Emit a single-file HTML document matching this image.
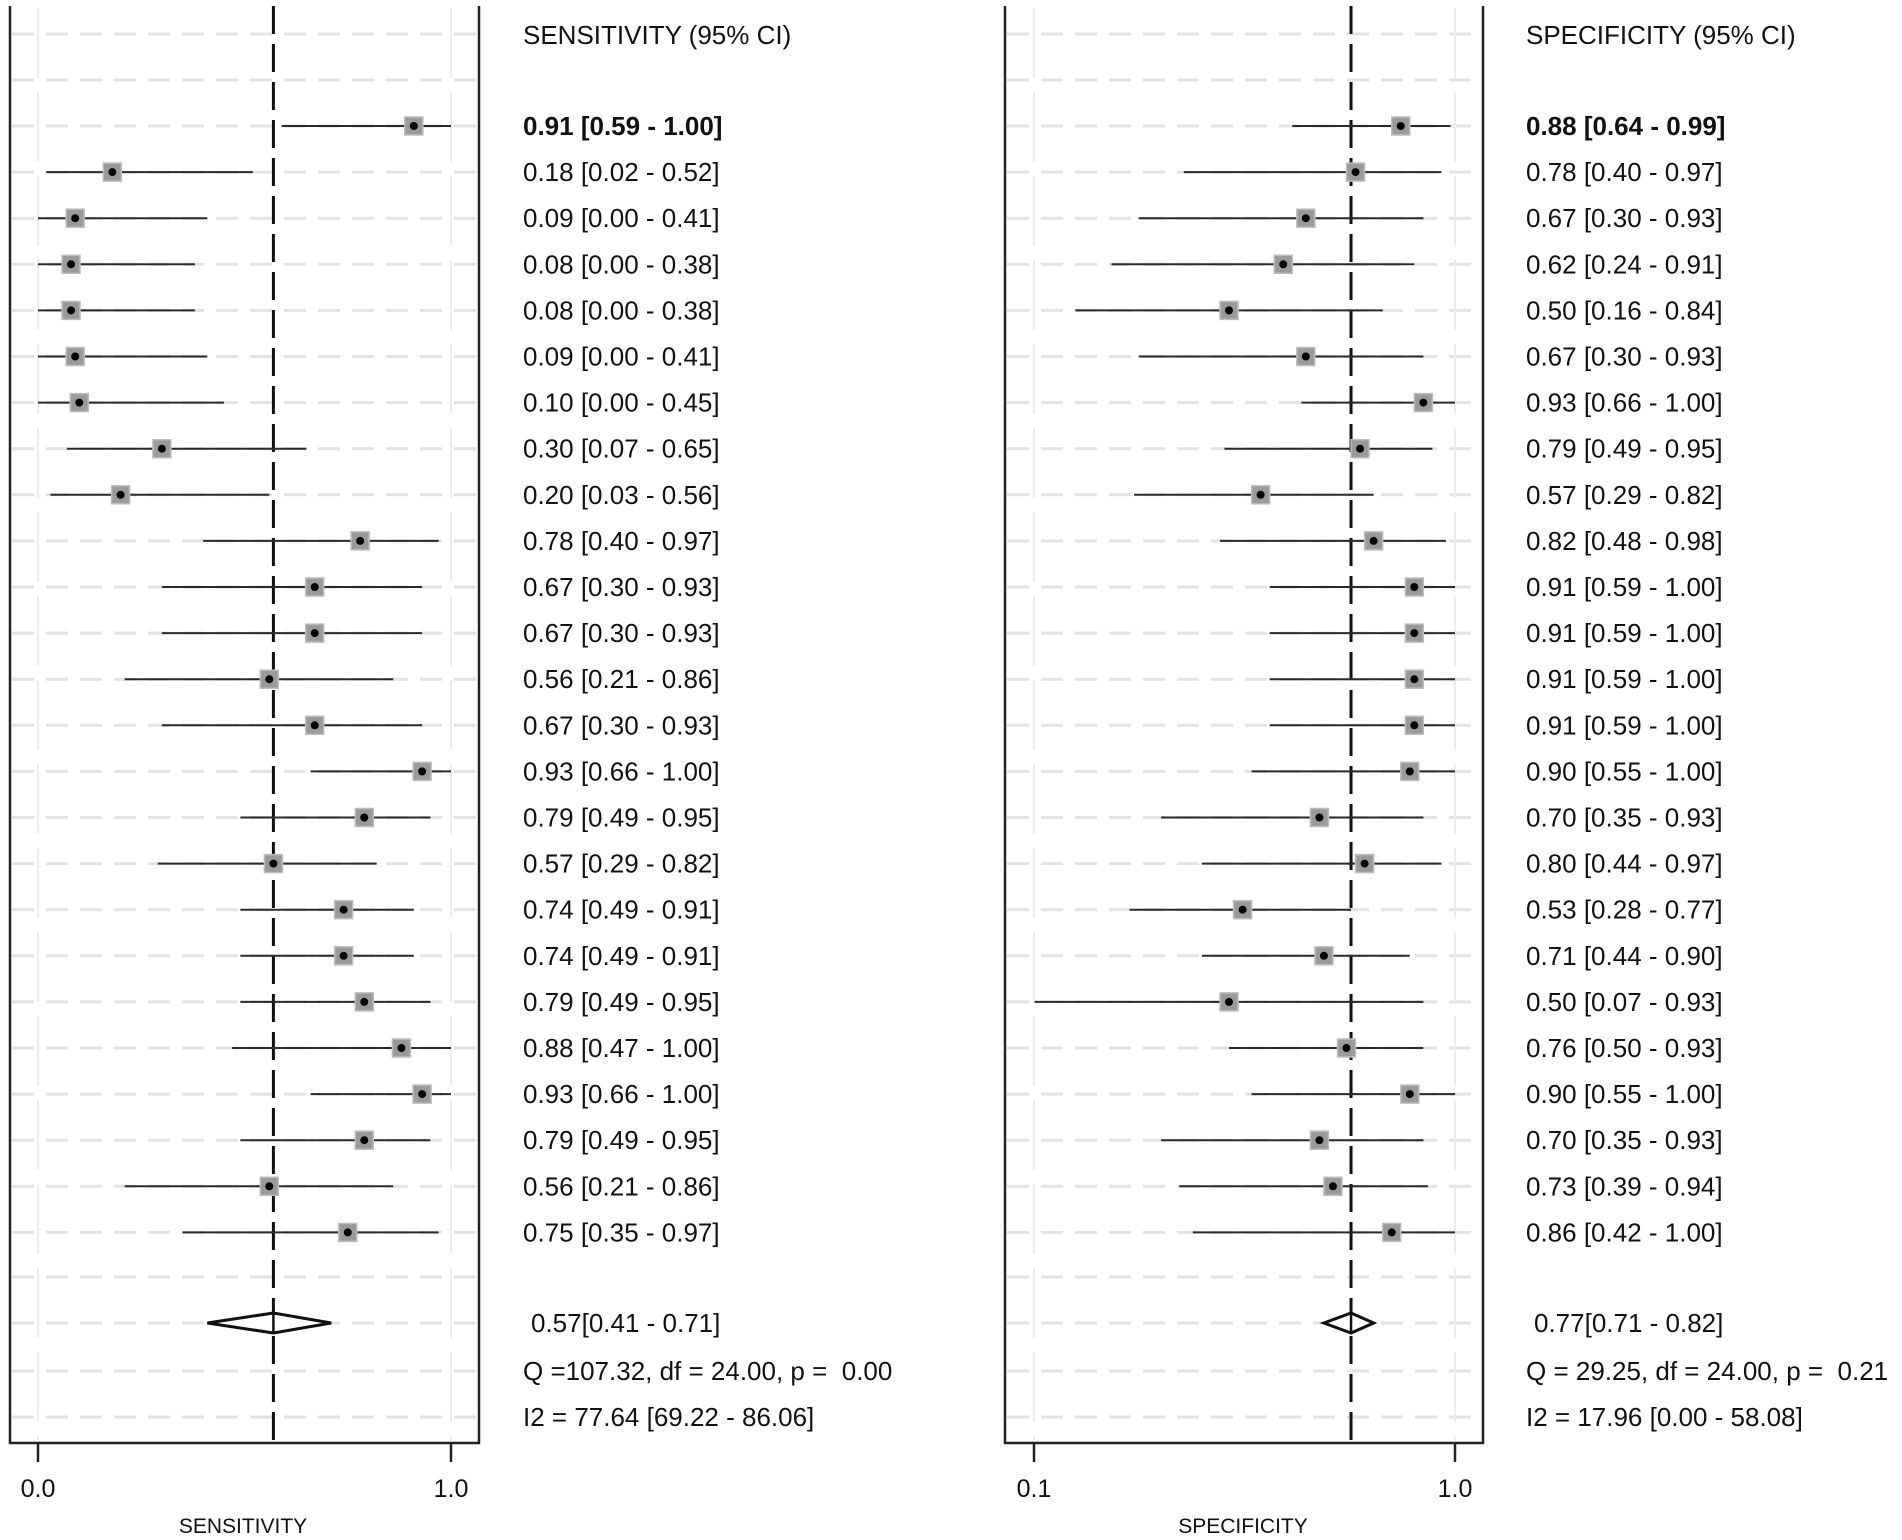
<!DOCTYPE html>
<html><head><meta charset="utf-8"><style>
html,body{margin:0;padding:0;background:#fff;}
svg{display:block;}
text{font-family:"Liberation Sans",Arial,sans-serif;fill:#111;white-space:pre;}
</style></head><body>
<svg id="chart" width="1902" height="1540" viewBox="0 0 1902 1540" xmlns="http://www.w3.org/2000/svg" xml:space="preserve"></svg>
<script>
const sensEst=[0.91,0.18,0.09,0.08,0.08,0.09,0.10,0.30,0.20,0.78,0.67,0.67,0.56,0.67,0.93,0.79,0.57,0.74,0.74,0.79,0.88,0.93,0.79,0.56,0.75];
const sensLo=[0.59,0.02,0.00,0.00,0.00,0.00,0.00,0.07,0.03,0.40,0.30,0.30,0.21,0.30,0.66,0.49,0.29,0.49,0.49,0.49,0.47,0.66,0.49,0.21,0.35];
const sensHi=[1.00,0.52,0.41,0.38,0.38,0.41,0.45,0.65,0.56,0.97,0.93,0.93,0.86,0.93,1.00,0.95,0.82,0.91,0.91,0.95,1.00,1.00,0.95,0.86,0.97];
const specEst=[0.88,0.78,0.67,0.62,0.50,0.67,0.93,0.79,0.57,0.82,0.91,0.91,0.91,0.91,0.90,0.70,0.80,0.53,0.71,0.50,0.76,0.90,0.70,0.73,0.86];
const specLo=[0.64,0.40,0.30,0.24,0.16,0.30,0.66,0.49,0.29,0.48,0.59,0.59,0.59,0.59,0.55,0.35,0.44,0.28,0.44,0.07,0.50,0.55,0.35,0.39,0.42];
const specHi=[0.99,0.97,0.93,0.91,0.84,0.93,1.00,0.95,0.82,0.98,1.00,1.00,1.00,1.00,1.00,0.93,0.97,0.77,0.90,0.93,0.93,1.00,0.93,0.94,1.00];
const sensPooled=[0.57,0.41,0.71];
const specPooled=[0.77,0.71,0.82];
const sensStats=["0.57[0.41 - 0.71]","Q =107.32, df = 24.00, p =  0.00","I2 = 77.64 [69.22 - 86.06]"];
const specStats=["0.77[0.71 - 0.82]","Q = 29.25, df = 24.00, p =  0.21","I2 = 17.96 [0.00 - 58.08]"];

const svg=document.getElementById('chart');
const NS='http://www.w3.org/2000/svg';
function mk(tag,attrs,parent){const e=document.createElementNS(NS,tag);for(const k in attrs)e.setAttribute(k,attrs[k]);(parent||svg).appendChild(e);return e;}
const rowY=i=>126+i*46.1;
const fmt=v=>v.toFixed(2);
const SX=1.0;
function label(g,x,y,size,str,bold){
  const t=mk('text',{x:x/SX,y:y,'font-size':size,transform:`scale(${SX},1)`,'font-weight':bold?'bold':'normal'},g);
  t.textContent=str;return t;
}

function panel(cfg){
  const g=mk('g',{});
  
  
  const xs=cfg.xs;
  const gys=[34,80];for(let i=0;i<25;i++)gys.push(rowY(i));gys.push(1277,1323,1371,1417);
  gys.forEach(y=>{const l=mk('line',{x1:cfg.left+2,x2:cfg.right-2,y1:y,y2:y,stroke:'#e2e2e2','stroke-width':3,'stroke-dasharray':'22,12'},g);
    });
  [cfg.t0x,cfg.t1x].forEach(x=>{const l=mk('line',{x1:x,x2:x,y1:8,y2:1440,stroke:'#ececec','stroke-width':2,'stroke-dasharray':'70,14'},g);
    });
  const fr=mk('path',{d:`M${cfg.left},6 V1443 H${cfg.right} V6`,fill:'none',stroke:'#222','stroke-width':2.5},g);
  
  [[cfg.t0x,cfg.t0l],[cfg.t1x,cfg.t1l]].forEach(([x,l])=>{
    const t=mk('line',{x1:x,x2:x,y1:1443,y2:1462,stroke:'#222','stroke-width':2.5},g);
    
    const tx=mk('text',{x:x,y:1497,'font-size':25,'text-anchor':'middle'},g);tx.textContent=l;
    
  });
  const at=mk('text',{x:cfg.titleX,y:1533,'font-size':21,'text-anchor':'middle'},g);at.textContent=cfg.title;
  
  const pl=mk('line',{x1:xs(cfg.pooled[0]),x2:xs(cfg.pooled[0]),y1:6,y2:1443,stroke:'#111','stroke-width':3,'stroke-dasharray':'28,10'},g);
  
  const h=label(g,cfg.textX,44,26,cfg.header,false);
  
  for(let i=0;i<cfg.est.length;i++){
    const y=rowY(i);
    const ci=mk('line',{x1:xs(cfg.lo[i]),x2:xs(cfg.hi[i]),y1:y,y2:y,stroke:'#2a2a2a','stroke-width':2},g);
    
    const sq=mk('rect',{x:xs(cfg.est[i])-9,y:y-9,width:18,height:18,fill:'#9a9a9a',stroke:'#bdbdbd','stroke-width':1.5},g);
    
    const d=mk('circle',{cx:xs(cfg.est[i]),cy:y,r:4,fill:'#000'},g);
    
    const t=label(g,cfg.textX,y+9,26,`${fmt(cfg.est[i])} [${fmt(cfg.lo[i])} - ${fmt(cfg.hi[i])}]`,i===0);
    
  }
  const yd=1323,p=cfg.pooled;
  const dm=mk('polygon',{points:`${xs(p[1])},${yd} ${xs(p[0])},${yd-10} ${xs(p[2])},${yd} ${xs(p[0])},${yd+10}`,fill:'#fff',stroke:'#111','stroke-width':3},g);
  
  const pl2=mk('line',{x1:xs(p[0]),x2:xs(p[0]),y1:yd-10,y2:yd+10,stroke:'#111','stroke-width':2.5},g);
  
  cfg.stats.forEach((s,k)=>{const t=label(g,cfg.textX+(k===0?8:0),[1332,1380,1426][k],26,s,false);
    });
}
panel({name:'sensitivity',left:10,right:479,t0x:38,t1x:451,t0l:'0.0',t1l:'1.0',xs:v=>38+413*v,
  est:sensEst,lo:sensLo,hi:sensHi,pooled:sensPooled,stats:sensStats,header:'SENSITIVITY (95% CI)',textX:523,title:'SENSITIVITY',titleX:243});
panel({name:'specificity',left:1005,right:1483,t0x:1034,t1x:1455,t0l:'0.1',t1l:'1.0',xs:v=>1003+452*v,
  est:specEst,lo:specLo,hi:specHi,pooled:specPooled,stats:specStats,header:'SPECIFICITY (95% CI)',textX:1526,title:'SPECIFICITY',titleX:1243});
</script>
</body></html>
